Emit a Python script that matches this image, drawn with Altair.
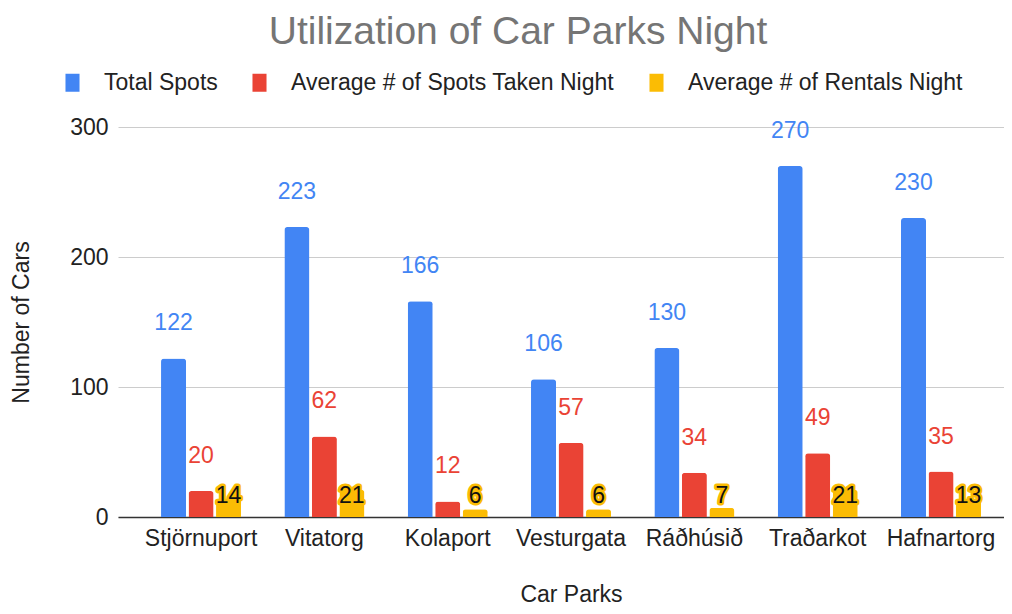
import altair as alt
import pandas as pd

parks = ["Stjörnuport", "Vitatorg", "Kolaport", "Vesturgata", "Ráðhúsið", "Traðarkot", "Hafnartorg"]
total_spots = [122, 223, 166, 106, 130, 270, 230]
spots_taken = [20, 62, 12, 57, 34, 49, 35]
rentals = [14, 21, 6, 6, 7, 21, 13]
series = ["Total Spots", "Average # of Spots Taken Night", "Average # of Rentals Night"]
colors = ["#4285F4", "#EA4335", "#FBBC04"]

rows = []
for i, p in enumerate(parks):
    for s, vals in zip(series, [total_spots, spots_taken, rentals]):
        rows.append({"park": p, "series": s, "value": vals[i]})
df = pd.DataFrame(rows)

FONT = "Liberation Sans"

x = alt.X("park:N", sort=parks, title="Car Parks",
          scale=alt.Scale(paddingInner=0.351, paddingOuter=0.2675, align=0.652),
          axis=alt.Axis(labelAngle=0, labelFontSize=23, labelFont=FONT, labelColor="#222222",
                        titleFontSize=23, titleFont=FONT, titleColor="#222222", titleFontWeight="normal",
                        labelPadding=10, titlePadding=33, ticks=False, domainColor="#333333",
                        domainWidth=1.5, titleX=453))
xoff = alt.XOffset("series:N", sort=series, scale=alt.Scale(paddingInner=0.09, paddingOuter=0))
y = alt.Y("value:Q", title="Number of Cars",
          scale=alt.Scale(domain=[0, 300], nice=False),
          axis=alt.Axis(values=[0, 100, 200, 300], labelFontSize=23, labelFont=FONT, labelColor="#222222",
                        titleFontSize=23, titleFont=FONT, titleColor="#222222", titleFontWeight="normal",
                        labelPadding=10, titlePadding=36, ticks=False, domain=False,
                        gridColor="#cccccc", gridWidth=1))
color = alt.Color("series:N", sort=series, scale=alt.Scale(domain=series, range=colors),
                  legend=alt.Legend(title=None, orient="none", direction="horizontal",
                                    legendX=-57, legendY=-56, labelFontSize=23, labelFont=FONT,
                                    labelColor="#222222", symbolType="M-0.78,-1H0.78V1H-0.78Z",
                                    symbolSize=324, symbolStrokeWidth=0, symbolOpacity=1,
                                    labelOffset=20, columnPadding=30, padding=0,
                                    labelLimit=500))

base = alt.Chart(df)

bars = base.mark_bar(cornerRadiusTopLeft=3, cornerRadiusTopRight=3).encode(
    x=x, xOffset=xoff, y=y, color=color)

labels = base.transform_filter(
    alt.datum.series != "Average # of Rentals Night"
).mark_text(fontSize=23, font=FONT, baseline="alphabetic", dy=-28).encode(
    x=x, xOffset=xoff, y=y, text="value:Q", color=alt.Color("series:N", scale=alt.Scale(domain=series, range=colors), legend=None))

rent = base.transform_filter(alt.datum.series == "Average # of Rentals Night")
halo = rent.mark_text(fontSize=23, font=FONT, baseline="middle", fill="#FBBC04",
                      stroke="#FBBC04", strokeWidth=5, strokeJoin="round").encode(
    x=x, xOffset=xoff, y=alt.value(369), text="value:Q")
rtext = rent.mark_text(fontSize=23, font=FONT, baseline="middle", color="#111111").encode(
    x=x, xOffset=xoff, y=alt.value(369), text="value:Q")

chart = alt.layer(bars, labels, halo, rtext).properties(
    width=886, height=390,
    padding={"left": 110, "top": 119, "right": 0, "bottom": 89},
    autosize=alt.AutoSizeParams(type="none"),
    title=alt.TitleParams(text="Utilization of Car Parks Night", fontSize=39, font=FONT,
                          color="#757575", fontWeight="normal", anchor="middle", frame="group",
                          dx=-43, dy=-15)
).configure_view(stroke=None)

chart.save("out.html", embed_options={"renderer": "svg", "actions": False})
